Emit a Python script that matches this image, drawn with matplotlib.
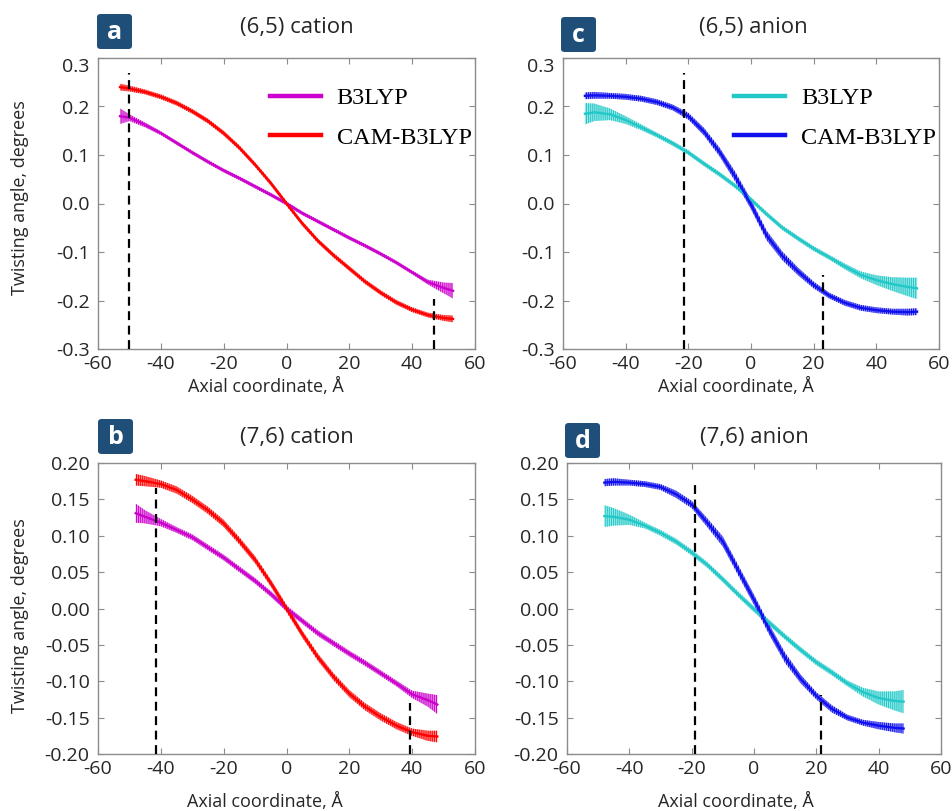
import matplotlib
matplotlib.use("Agg")
import matplotlib.pyplot as plt
from matplotlib.lines import Line2D
from matplotlib.patches import FancyBboxPatch
import numpy as np

plt.rcParams['font.family'] = ['Open Sans', 'DejaVu Sans']
plt.rcParams['axes.unicode_minus'] = False
plt.rcParams['hatch.linewidth'] = 0.7

# ---------------- data ----------------
# (6,5) tubes
x65 = [-53, -50, -45, -40, -35, -30, -25, -20, -15, -10, -5, 0,
       5, 10, 15, 20, 25, 30, 35, 40, 45, 50, 53]
# (6,5) cation
cat65_b3lyp = [0.180, 0.177, 0.162, 0.145, 0.125, 0.105, 0.086, 0.068, 0.052, 0.035, 0.018, 0.0,
               -0.020, -0.037, -0.054, -0.071, -0.087, -0.104, -0.122, -0.142, -0.162, -0.174, -0.180]
cat65_b3lyp_amp = [0.016, 0.007, 0.005, 0.004, 0.004, 0.004, 0.004, 0.004, 0.004, 0.004, 0.004, 0.004,
                   0.004, 0.004, 0.004, 0.004, 0.004, 0.004, 0.004, 0.004, 0.005, 0.011, 0.016]
cat65_cam = [0.240, 0.237, 0.230, 0.220, 0.207, 0.190, 0.170, 0.145, 0.115, 0.080, 0.042, 0.0,
             -0.041, -0.077, -0.107, -0.134, -0.161, -0.184, -0.204, -0.219, -0.230, -0.236, -0.238]
cat65_cam_amp = [0.007, 0.006, 0.005, 0.005, 0.005, 0.005, 0.005, 0.005, 0.005, 0.005, 0.005, 0.005,
                 0.005, 0.005, 0.005, 0.005, 0.005, 0.005, 0.005, 0.005, 0.005, 0.006, 0.007]
# (6,5) anion
an65_b3lyp = [0.185, 0.188, 0.184, 0.172, 0.157, 0.141, 0.124, 0.105, 0.082, 0.060, 0.036, 0.008,
              -0.022, -0.050, -0.072, -0.093, -0.111, -0.130, -0.147, -0.158, -0.166, -0.172, -0.175]
an65_b3lyp_amp = [0.022, 0.018, 0.012, 0.008, 0.006, 0.005, 0.005, 0.005, 0.005, 0.005, 0.005, 0.005,
                  0.005, 0.005, 0.005, 0.005, 0.005, 0.006, 0.007, 0.010, 0.014, 0.019, 0.022]
an65_cam = [0.222, 0.223, 0.222, 0.220, 0.216, 0.209, 0.198, 0.180, 0.148, 0.106, 0.055, -0.002,
            -0.066, -0.108, -0.140, -0.168, -0.190, -0.205, -0.215, -0.220, -0.223, -0.224, -0.223]
an65_cam_amp = [0.007, 0.007, 0.006, 0.006, 0.006, 0.006, 0.006, 0.007, 0.008, 0.009, 0.010, 0.010,
                0.010, 0.009, 0.008, 0.007, 0.006, 0.006, 0.006, 0.006, 0.006, 0.007, 0.007]

# (7,6) tubes
x76 = [-48, -45, -40, -35, -30, -25, -20, -15, -10, -5, 0,
       5, 10, 15, 20, 25, 30, 35, 40, 45, 48]
# (7,6) cation
cat76_b3lyp = [0.131, 0.126, 0.118, 0.108, 0.098, 0.084, 0.070, 0.054, 0.038, 0.020, 0.0,
               -0.017, -0.034, -0.048, -0.062, -0.075, -0.089, -0.103, -0.118, -0.126, -0.132]
cat76_b3lyp_amp = [0.013, 0.009, 0.005, 0.004, 0.004, 0.004, 0.004, 0.004, 0.004, 0.004, 0.004,
                   0.004, 0.004, 0.004, 0.004, 0.004, 0.004, 0.004, 0.005, 0.009, 0.013]
cat76_cam = [0.177, 0.175, 0.171, 0.163, 0.150, 0.135, 0.117, 0.093, 0.067, 0.035, 0.0,
             -0.035, -0.067, -0.094, -0.117, -0.135, -0.149, -0.161, -0.170, -0.175, -0.176]
cat76_cam_amp = [0.008, 0.007, 0.005, 0.005, 0.005, 0.005, 0.005, 0.005, 0.005, 0.005, 0.005,
                 0.005, 0.005, 0.005, 0.005, 0.005, 0.005, 0.005, 0.005, 0.007, 0.008]
# (7,6) anion
an76_b3lyp = [0.127, 0.126, 0.122, 0.114, 0.104, 0.092, 0.077, 0.060, 0.040, 0.019, -0.001,
              -0.020, -0.039, -0.057, -0.074, -0.088, -0.103, -0.115, -0.123, -0.127, -0.128]
an76_b3lyp_amp = [0.015, 0.012, 0.007, 0.004, 0.004, 0.004, 0.004, 0.004, 0.004, 0.004, 0.004,
                  0.004, 0.004, 0.004, 0.004, 0.004, 0.004, 0.006, 0.009, 0.013, 0.016]
an76_cam = [0.173, 0.174, 0.173, 0.171, 0.167, 0.157, 0.143, 0.118, 0.092, 0.052, 0.012,
            -0.030, -0.068, -0.097, -0.120, -0.138, -0.150, -0.157, -0.161, -0.164, -0.165]
an76_cam_amp = [0.005, 0.005, 0.004, 0.004, 0.004, 0.005, 0.005, 0.006, 0.007, 0.007, 0.007,
                0.007, 0.007, 0.006, 0.005, 0.005, 0.004, 0.004, 0.005, 0.006, 0.007]

# dashed marker lines: (x position, top value)
marks_a = [(-50.0, 0.270), (47.0, -0.197)]
marks_c = [(-21.5, 0.270), (23.0, -0.147)]
marks_b = [(-41.5, 0.166), (39.3, -0.130)]
marks_d = [(-19.0, 0.177), (21.5, -0.119)]

xticks = [-60, -40, -20, 0, 20, 40, 60]
yticks65 = [0.3, 0.2, 0.1, 0.0, -0.1, -0.2, -0.3]
yticks76 = [0.20, 0.15, 0.10, 0.05, 0.00, -0.05, -0.10, -0.15, -0.20]

legend_labels = ['B3LYP', 'CAM-B3LYP']
titles = ['(6,5) cation', '(6,5) anion', '(7,6) cation', '(7,6) anion']
letters = ['a', 'c', 'b', 'd']

MAGENTA = '#CC00CC'
RED = '#FF0000'
CYAN = '#22C8C8'
BLUE = '#1010EE'

W, H = 952, 811
fig = plt.figure(figsize=(W / 100, H / 100), dpi=100)


def ax_at(left, top, right, bottom):
    return fig.add_axes([left / W, 1 - bottom / H, (right - left) / W, (bottom - top) / H])


ax_a = ax_at(98, 58, 475, 349)
ax_c = ax_at(563, 58, 939, 349)
ax_b = ax_at(98, 463, 475, 754)
ax_d = ax_at(567, 463, 941, 754)

GRAY = '#8c8c8c'
TXT = '#262626'


def draw_curve(ax, x, y, amp, color):
    x = np.asarray(x, float)
    y = np.asarray(y, float)
    a = np.asarray(amp, float)
    ax.fill_between(x, y - a, y + a, facecolor=color, alpha=0.45, linewidth=0, zorder=2)
    ax.fill_between(x, y - a, y + a, facecolor='none', edgecolor=color,
                    hatch='||||||||', linewidth=0, zorder=2)
    ax.plot(x, y, color=color, lw=1.7, zorder=3, solid_joinstyle='round')


def style(ax, yticks, fmt, ylim):
    ax.set_xlim(-60, 60)
    ax.set_ylim(*ylim)
    ax.set_xticks(xticks)
    ax.set_xticklabels([str(t) for t in xticks])
    ax.set_yticks(yticks)
    ax.set_yticklabels([fmt.format(t) for t in yticks])
    ax.tick_params(direction='in', top=True, right=True, length=4, width=0.8,
                   color=GRAY, labelsize=14, labelcolor=TXT)
    ax.tick_params(axis='x', pad=4)
    ax.tick_params(axis='y', pad=6)
    for s in ax.spines.values():
        s.set_color(GRAY)
        s.set_linewidth(1.0)


def marks(ax, mk, ymin):
    for xm, yt in mk:
        ax.plot([xm, xm], [ymin, yt], color='black', lw=1.6, ls=(0, (4, 2.5)), zorder=4)


panels = [
    (ax_a, x65, [(cat65_b3lyp, cat65_b3lyp_amp, MAGENTA), (cat65_cam, cat65_cam_amp, RED)], marks_a, yticks65, '{:.1f}', (-0.3, 0.3)),
    (ax_c, x65, [(an65_b3lyp, an65_b3lyp_amp, CYAN), (an65_cam, an65_cam_amp, BLUE)], marks_c, yticks65, '{:.1f}', (-0.3, 0.3)),
    (ax_b, x76, [(cat76_b3lyp, cat76_b3lyp_amp, MAGENTA), (cat76_cam, cat76_cam_amp, RED)], marks_b, yticks76, '{:.2f}', (-0.2, 0.2)),
    (ax_d, x76, [(an76_b3lyp, an76_b3lyp_amp, CYAN), (an76_cam, an76_cam_amp, BLUE)], marks_d, yticks76, '{:.2f}', (-0.2, 0.2)),
]

for ax, x, curves, mk, yt, fmt, ylim in panels:
    for y, a, c in curves:
        draw_curve(ax, x, y, a, c)
    marks(ax, mk, ylim[0])
    style(ax, yt, fmt, ylim)

# top tick label of (6,5) panels sits inside
for ax in (ax_a, ax_c):
    ax.get_yticklabels()[0].set_verticalalignment('top')

# axis labels
for ax, xl_x, xl_y in [(ax_a, 0.445, -0.13), (ax_c, 0.46, -0.13),
                       (ax_b, 0.443, -0.165), (ax_d, 0.452, -0.165)]:
    ax.set_xlabel('Axial coordinate, Å', fontsize=13, color=TXT)
    ax.xaxis.set_label_coords(xl_x, xl_y)
    ax.xaxis.label.set_verticalalignment('center')
for ax, yl_y in [(ax_a, 0.52), (ax_b, 0.474)]:
    ax.set_ylabel('Twisting angle, degrees', fontsize=13, color=TXT)
    ax.yaxis.set_label_coords(-0.207, yl_y)
    ax.yaxis.label.set_verticalalignment('center')

# legends
for ax, cols in [(ax_a, (MAGENTA, RED)), (ax_c, (CYAN, BLUE))]:
    handles = [Line2D([], [], color=c, lw=3.2) for c in cols]
    ax.legend(handles, legend_labels, loc='upper left', bbox_to_anchor=(0.456, 0.90),
              frameon=False, handlelength=2.1, handletextpad=0.65, labelspacing=0.72,
              borderpad=0, borderaxespad=0,
              prop={'family': 'Liberation Serif', 'size': 17.5})

# titles and letter boxes (pixel positions)
title_pos = [(297, 27), (753, 27), (297, 437), (754, 437)]
box_pos = [(97, 14), (561, 17), (98, 419), (565, 423)]
for t, (tx, ty) in zip(titles, title_pos):
    fig.text(tx / W, 1 - ty / H, t, ha='center', va='center', fontsize=16, color=TXT)
for l, (bx, by) in zip(letters, box_pos):
    bw, bh = 35, 35
    p = FancyBboxPatch((bx / W, 1 - (by + bh) / H), bw / W, bh / H,
                       boxstyle='round,pad=0,rounding_size=0.004',
                       transform=fig.transFigure, facecolor='#1F4E79',
                       edgecolor='none', zorder=5)
    fig.patches.append(p)
    fig.text((bx + bw / 2) / W, 1 - (by + bh / 2 + 1) / H, l, ha='center', va='center',
             fontsize=18, fontweight='bold', color='white', zorder=6)

fig.savefig('out.png', dpi=100)
